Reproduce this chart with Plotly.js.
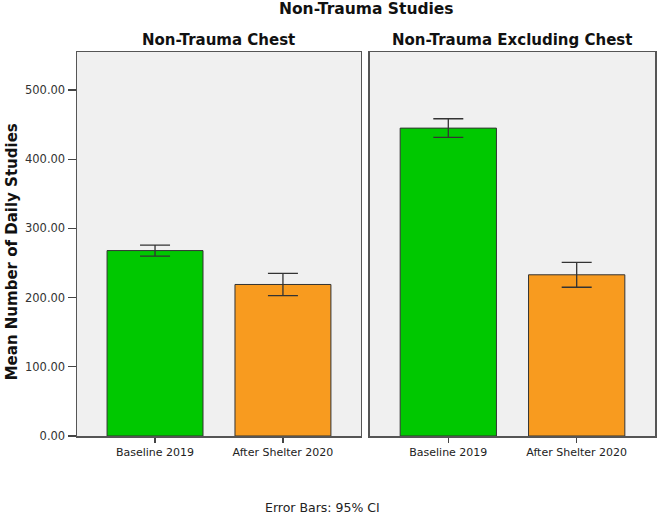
<!DOCTYPE html>
<html>
<head>
<meta charset="utf-8">
<script src="https://cdn.plot.ly/plotly-3.0.1.min.js"></script>
<style>html,body{margin:0;padding:0;background:#fff;}#chart{width:657px;height:514px;}</style>
</head>
<body>
<div id="chart"></div>
<script>
var categories = ['Baseline 2019', 'After Shelter 2020'];
var chestMeans = [268, 219];
var chestErr = [8, 16];
var exclMeans = [445, 233];
var exclErr = [13.5, 18];
var barColors = ['#00c800', '#f89b1f'];
var yTicks = [0, 100, 200, 300, 400, 500];
var panelTitles = ['Non-Trauma Chest', 'Non-Trauma Excluding Chest'];

var FONT = 'DejaVu Sans, Arial, sans-serif';

function barTrace(means, errs, xa, ya) {
  return {
    type: 'bar', x: categories, y: means, xaxis: xa, yaxis: ya,
    width: 0.75,
    marker: {color: barColors, line: {color: '#333', width: 1}},
    error_y: {type: 'data', array: errs, visible: true, color: '#333', thickness: 1.3, width: 15},
    hoverinfo: 'skip', showlegend: false
  };
}

var data = [barTrace(chestMeans, chestErr, 'x', 'y'), barTrace(exclMeans, exclErr, 'x2', 'y2')];

var xCommon = {
  type: 'category', range: [-0.61, 1.61], showline: true, mirror: true, linecolor: '#555', linewidth: 1.5,
  ticks: 'outside', ticklen: 5, tickcolor: '#444', tickwidth: 1.3, showgrid: false, zeroline: false,
  tickfont: {family: FONT, size: 11, color: '#222'}, fixedrange: true
};
var yCommon = {
  range: [0, 555], showline: true, mirror: true, linecolor: '#555', linewidth: 1.5,
  showgrid: false, zeroline: false, tickvals: yTicks, fixedrange: true
};

var layout = {
  width: 657, height: 514,
  margin: {l: 77, r: 2, t: 52, b: 78},
  paper_bgcolor: '#ffffff', plot_bgcolor: '#f0f0f0',
  font: {family: FONT, color: '#222'},
  bargap: 0.25,
  xaxis: Object.assign({}, xCommon, {domain: [0, 0.4913], anchor: 'y'}),
  xaxis2: Object.assign({}, xCommon, {domain: [0.5069, 1], anchor: 'y2'}),
  yaxis: Object.assign({}, yCommon, {
    anchor: 'x', ticks: 'outside', ticklen: 8, tickcolor: '#444', tickwidth: 1.3,
    tickformat: '.2f', tickfont: {family: FONT, size: 11.5, color: '#333'}
  }),
  yaxis2: Object.assign({}, yCommon, {anchor: 'x2', matches: 'y', showticklabels: false, ticks: ''}),
  annotations: [
    {text: '<b>Non-Trauma Studies</b>', xref: 'paper', yref: 'paper', x: 0.5, y: 1.112,
     xanchor: 'center', yanchor: 'middle', showarrow: false, font: {family: FONT, size: 15.5, color: '#111'}},
    {text: '<b>' + panelTitles[0] + '</b>', xref: 'paper', yref: 'paper', x: 0.2456, y: 1.031,
     xanchor: 'center', yanchor: 'middle', showarrow: false, font: {family: FONT, size: 15, color: '#111'}},
    {text: '<b>' + panelTitles[1] + '</b>', xref: 'paper', yref: 'paper', x: 0.7534, y: 1.031,
     xanchor: 'center', yanchor: 'middle', showarrow: false, font: {family: FONT, size: 15, color: '#111'}},
    {text: '<b>Mean Number of Daily Studies</b>', xref: 'paper', yref: 'paper', x: -0.112, y: 0.479,
     textangle: -90, xanchor: 'center', yanchor: 'middle', showarrow: false, font: {family: FONT, size: 15, color: '#111'}},
    {text: 'Error Bars: 95% CI', xref: 'paper', yref: 'paper', x: 0.4256, y: -0.185,
     xanchor: 'center', yanchor: 'middle', showarrow: false, font: {family: FONT, size: 12.5, color: '#222'}}
  ]
};

Plotly.newPlot('chart', data, layout, {displayModeBar: false, staticPlot: true});
</script>
</body>
</html>
